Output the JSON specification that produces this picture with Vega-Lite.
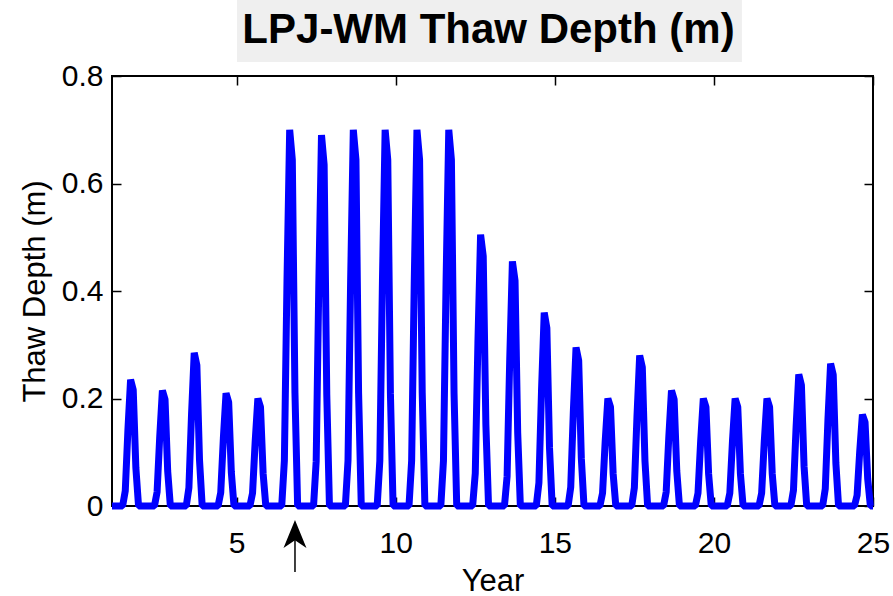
{
  "$schema": "https://vega.github.io/schema/vega-lite/v6.json",
  "width": 761,
  "height": 430,
  "autosize": {"type": "none"},
  "padding": {"left": 112, "top": 76, "right": 20, "bottom": 90},
  "background": "white",
  "title": {"text": "LPJ-WM Thaw Depth (m)", "font": "Liberation Sans", "fontSize": 42, "fontWeight": "bold", "color": "black", "anchor": "middle", "frame": "group", "baseline": "alphabetic", "offset": -85, "dx": -4},
  "config": {
    "font": "Liberation Sans",
    "view": {"stroke": "black", "strokeWidth": 2},
    "axis": {"grid": false, "domain": false, "labelFont": "Liberation Sans", "labelFontSize": 30, "labelColor": "black", "tickColor": "black", "tickWidth": 1.5, "tickSize": -9, "labelFlush": false, "labelOverlap": false, "labelBound": false, "titleFont": "Liberation Sans", "titleFontSize": 31, "titleFontWeight": "normal", "titleColor": "black"}
  },
  "datasets": {
    "thaw": [
      {"t":1.083,"d":0},{"t":1.167,"d":0},{"t":1.25,"d":0},{"t":1.333,"d":0},{"t":1.417,"d":0},{"t":1.5,"d":0.028},{"t":1.583,"d":0.141},{"t":1.667,"d":0.235},{"t":1.75,"d":0.216},{"t":1.833,"d":0.071},{"t":1.917,"d":0},{"t":2,"d":0},
      {"t":2.083,"d":0},{"t":2.167,"d":0},{"t":2.25,"d":0},{"t":2.333,"d":0},{"t":2.417,"d":0},{"t":2.5,"d":0.026},{"t":2.583,"d":0.129},{"t":2.667,"d":0.215},{"t":2.75,"d":0.198},{"t":2.833,"d":0.065},{"t":2.917,"d":0},{"t":3,"d":0},
      {"t":3.083,"d":0},{"t":3.167,"d":0},{"t":3.25,"d":0},{"t":3.333,"d":0},{"t":3.417,"d":0},{"t":3.5,"d":0.034},{"t":3.583,"d":0.171},{"t":3.667,"d":0.285},{"t":3.75,"d":0.262},{"t":3.833,"d":0.086},{"t":3.917,"d":0},{"t":4,"d":0},
      {"t":4.083,"d":0},{"t":4.167,"d":0},{"t":4.25,"d":0},{"t":4.333,"d":0},{"t":4.417,"d":0},{"t":4.5,"d":0.025},{"t":4.583,"d":0.126},{"t":4.667,"d":0.21},{"t":4.75,"d":0.193},{"t":4.833,"d":0.063},{"t":4.917,"d":0},{"t":5,"d":0},
      {"t":5.083,"d":0},{"t":5.167,"d":0},{"t":5.25,"d":0},{"t":5.333,"d":0},{"t":5.417,"d":0},{"t":5.5,"d":0.024},{"t":5.583,"d":0.12},{"t":5.667,"d":0.2},{"t":5.75,"d":0.184},{"t":5.833,"d":0.06},{"t":5.917,"d":0},{"t":6,"d":0},
      {"t":6.083,"d":0},{"t":6.167,"d":0},{"t":6.25,"d":0},{"t":6.333,"d":0},{"t":6.417,"d":0},{"t":6.5,"d":0.084},{"t":6.583,"d":0.42},{"t":6.667,"d":0.7},{"t":6.75,"d":0.644},{"t":6.833,"d":0.21},{"t":6.917,"d":0},{"t":7,"d":0},
      {"t":7.083,"d":0},{"t":7.167,"d":0},{"t":7.25,"d":0},{"t":7.333,"d":0},{"t":7.417,"d":0},{"t":7.5,"d":0.083},{"t":7.583,"d":0.414},{"t":7.667,"d":0.69},{"t":7.75,"d":0.635},{"t":7.833,"d":0.207},{"t":7.917,"d":0},{"t":8,"d":0},
      {"t":8.083,"d":0},{"t":8.167,"d":0},{"t":8.25,"d":0},{"t":8.333,"d":0},{"t":8.417,"d":0},{"t":8.5,"d":0.084},{"t":8.583,"d":0.42},{"t":8.667,"d":0.7},{"t":8.75,"d":0.644},{"t":8.833,"d":0.21},{"t":8.917,"d":0},{"t":9,"d":0},
      {"t":9.083,"d":0},{"t":9.167,"d":0},{"t":9.25,"d":0},{"t":9.333,"d":0},{"t":9.417,"d":0},{"t":9.5,"d":0.084},{"t":9.583,"d":0.42},{"t":9.667,"d":0.7},{"t":9.75,"d":0.644},{"t":9.833,"d":0.21},{"t":9.917,"d":0},{"t":10,"d":0},
      {"t":10.083,"d":0},{"t":10.167,"d":0},{"t":10.25,"d":0},{"t":10.333,"d":0},{"t":10.417,"d":0},{"t":10.5,"d":0.084},{"t":10.583,"d":0.42},{"t":10.667,"d":0.7},{"t":10.75,"d":0.644},{"t":10.833,"d":0.21},{"t":10.917,"d":0},{"t":11,"d":0},
      {"t":11.083,"d":0},{"t":11.167,"d":0},{"t":11.25,"d":0},{"t":11.333,"d":0},{"t":11.417,"d":0},{"t":11.5,"d":0.084},{"t":11.583,"d":0.42},{"t":11.667,"d":0.7},{"t":11.75,"d":0.644},{"t":11.833,"d":0.21},{"t":11.917,"d":0},{"t":12,"d":0},
      {"t":12.083,"d":0},{"t":12.167,"d":0},{"t":12.25,"d":0},{"t":12.333,"d":0},{"t":12.417,"d":0},{"t":12.5,"d":0.061},{"t":12.583,"d":0.303},{"t":12.667,"d":0.505},{"t":12.75,"d":0.465},{"t":12.833,"d":0.152},{"t":12.917,"d":0},{"t":13,"d":0},
      {"t":13.083,"d":0},{"t":13.167,"d":0},{"t":13.25,"d":0},{"t":13.333,"d":0},{"t":13.417,"d":0},{"t":13.5,"d":0.055},{"t":13.583,"d":0.273},{"t":13.667,"d":0.455},{"t":13.75,"d":0.419},{"t":13.833,"d":0.137},{"t":13.917,"d":0},{"t":14,"d":0},
      {"t":14.083,"d":0},{"t":14.167,"d":0},{"t":14.25,"d":0},{"t":14.333,"d":0},{"t":14.417,"d":0},{"t":14.5,"d":0.043},{"t":14.583,"d":0.216},{"t":14.667,"d":0.36},{"t":14.75,"d":0.331},{"t":14.833,"d":0.108},{"t":14.917,"d":0},{"t":15,"d":0},
      {"t":15.083,"d":0},{"t":15.167,"d":0},{"t":15.25,"d":0},{"t":15.333,"d":0},{"t":15.417,"d":0},{"t":15.5,"d":0.035},{"t":15.583,"d":0.177},{"t":15.667,"d":0.295},{"t":15.75,"d":0.271},{"t":15.833,"d":0.089},{"t":15.917,"d":0},{"t":16,"d":0},
      {"t":16.083,"d":0},{"t":16.167,"d":0},{"t":16.25,"d":0},{"t":16.333,"d":0},{"t":16.417,"d":0},{"t":16.5,"d":0.024},{"t":16.583,"d":0.12},{"t":16.667,"d":0.2},{"t":16.75,"d":0.184},{"t":16.833,"d":0.06},{"t":16.917,"d":0},{"t":17,"d":0},
      {"t":17.083,"d":0},{"t":17.167,"d":0},{"t":17.25,"d":0},{"t":17.333,"d":0},{"t":17.417,"d":0},{"t":17.5,"d":0.034},{"t":17.583,"d":0.168},{"t":17.667,"d":0.28},{"t":17.75,"d":0.258},{"t":17.833,"d":0.084},{"t":17.917,"d":0},{"t":18,"d":0},
      {"t":18.083,"d":0},{"t":18.167,"d":0},{"t":18.25,"d":0},{"t":18.333,"d":0},{"t":18.417,"d":0},{"t":18.5,"d":0.026},{"t":18.583,"d":0.129},{"t":18.667,"d":0.215},{"t":18.75,"d":0.198},{"t":18.833,"d":0.065},{"t":18.917,"d":0},{"t":19,"d":0},
      {"t":19.083,"d":0},{"t":19.167,"d":0},{"t":19.25,"d":0},{"t":19.333,"d":0},{"t":19.417,"d":0},{"t":19.5,"d":0.024},{"t":19.583,"d":0.12},{"t":19.667,"d":0.2},{"t":19.75,"d":0.184},{"t":19.833,"d":0.06},{"t":19.917,"d":0},{"t":20,"d":0},
      {"t":20.083,"d":0},{"t":20.167,"d":0},{"t":20.25,"d":0},{"t":20.333,"d":0},{"t":20.417,"d":0},{"t":20.5,"d":0.024},{"t":20.583,"d":0.12},{"t":20.667,"d":0.2},{"t":20.75,"d":0.184},{"t":20.833,"d":0.06},{"t":20.917,"d":0},{"t":21,"d":0},
      {"t":21.083,"d":0},{"t":21.167,"d":0},{"t":21.25,"d":0},{"t":21.333,"d":0},{"t":21.417,"d":0},{"t":21.5,"d":0.024},{"t":21.583,"d":0.12},{"t":21.667,"d":0.2},{"t":21.75,"d":0.184},{"t":21.833,"d":0.06},{"t":21.917,"d":0},{"t":22,"d":0},
      {"t":22.083,"d":0},{"t":22.167,"d":0},{"t":22.25,"d":0},{"t":22.333,"d":0},{"t":22.417,"d":0},{"t":22.5,"d":0.029},{"t":22.583,"d":0.147},{"t":22.667,"d":0.245},{"t":22.75,"d":0.225},{"t":22.833,"d":0.074},{"t":22.917,"d":0},{"t":23,"d":0},
      {"t":23.083,"d":0},{"t":23.167,"d":0},{"t":23.25,"d":0},{"t":23.333,"d":0},{"t":23.417,"d":0},{"t":23.5,"d":0.032},{"t":23.583,"d":0.159},{"t":23.667,"d":0.265},{"t":23.75,"d":0.244},{"t":23.833,"d":0.08},{"t":23.917,"d":0},{"t":24,"d":0},
      {"t":24.083,"d":0},{"t":24.167,"d":0},{"t":24.25,"d":0},{"t":24.333,"d":0},{"t":24.417,"d":0},{"t":24.5,"d":0.02},{"t":24.583,"d":0.102},{"t":24.667,"d":0.17},{"t":24.75,"d":0.156},{"t":24.833,"d":0.051},{"t":24.917,"d":0},{"t":25,"d":0}
    ]
  },
  "resolve": {"axis": {"x": "independent", "y": "independent"}},
  "layer": [
    {
      "data": {"values": [{}]},
      "mark": {"type": "rect", "color": "#efefef"},
      "encoding": {
        "x": {"datum": 5.012, "type": "quantitative", "axis": null},
        "x2": {"datum": 20.88},
        "y": {"datum": 0.9414, "type": "quantitative", "axis": null},
        "y2": {"datum": 0.826}
      }
    },
    {
      "data": {"name": "thaw"},
      "mark": {"type": "line", "color": "#0000ff", "strokeWidth": 7, "strokeJoin": "bevel", "strokeCap": "butt"},
      "encoding": {
        "x": {"field": "t", "type": "quantitative", "scale": {"domain": [1.083, 25], "nice": false, "zero": false},
              "axis": {"orient": "bottom", "values": [5, 10, 15, 20, 25], "format": "d", "title": "Year", "labelPadding": 31, "titlePadding": 8}},
        "y": {"field": "d", "type": "quantitative", "scale": {"domain": [0, 0.8], "nice": false, "zero": false},
              "axis": {"orient": "left", "values": [0, 0.2, 0.4, 0.6, 0.8], "format": ".1~f", "title": "Thaw Depth (m)", "labelPadding": 18, "titlePadding": 10}}
      }
    },
    {
      "data": {"name": "thaw"},
      "mark": {"type": "point", "opacity": 0},
      "encoding": {
        "x": {"field": "t", "type": "quantitative",
              "axis": {"orient": "top", "values": [5, 10, 15, 20, 25], "labels": false, "title": null}},
        "y": {"field": "d", "type": "quantitative",
              "axis": {"orient": "right", "values": [0, 0.2, 0.4, 0.6, 0.8], "labels": false, "title": null}}
      }
    },
    {
      "data": {"values": [{}]},
      "mark": {"type": "rule", "color": "black", "strokeWidth": 1.5},
      "encoding": {
        "x": {"datum": 6.834, "type": "quantitative", "axis": null},
        "y": {"datum": -0.06, "type": "quantitative", "axis": null},
        "y2": {"datum": -0.123}
      }
    },
    {
      "data": {"values": [{}]},
      "mark": {"type": "point", "shape": "M0,-1L0.82,1L0,0.45L-0.82,1Z", "filled": true, "color": "black", "opacity": 1, "size": 784},
      "encoding": {
        "x": {"datum": 6.834, "type": "quantitative", "axis": null},
        "y": {"datum": -0.052, "type": "quantitative", "axis": null}
      }
    }
  ]
}
